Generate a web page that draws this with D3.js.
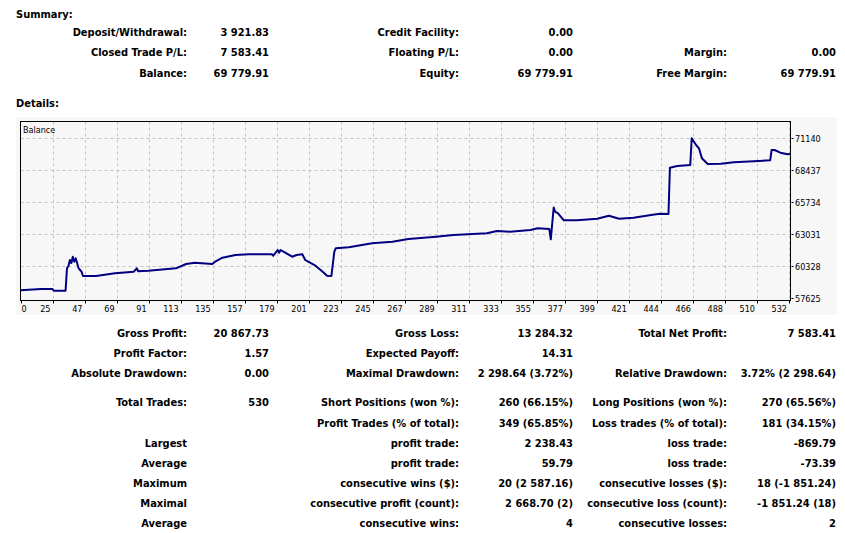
<!DOCTYPE html>
<html>
<head>
<meta charset="utf-8">
<script src="https://cdn.jsdelivr.net/npm/d3@7"></script>
<style>
  body { margin: 0; background: #fff; }
  svg text { font-family: "DejaVu Sans Condensed", "DejaVu Sans", sans-serif; fill: #000; }
</style>
</head>
<body>
<div id="report"></div>
<script>
// balance curve (trade number -> balance)
const tradeNo = [0, 14, 22, 23, 31, 32, 33, 34, 35, 36, 37, 38, 39, 40, 41, 42, 43, 52, 65, 78, 80, 81, 88,
  107, 114, 120, 132, 134, 139, 148, 157, 173, 174, 177, 178, 179, 181, 187, 190, 194, 196, 198, 203,
  208, 211, 214, 216, 217, 226, 242, 256, 267, 286, 298, 321, 328, 337, 351, 356, 364, 365, 367, 368,
  370, 374, 383, 397, 405, 412, 422, 434, 440, 446, 447, 452, 461, 462, 465, 467, 469, 473, 482, 491,
  508, 516, 517, 519, 523, 528, 530];
const balance = [58275, 58380, 58380, 58242, 58242, 60134, 60328, 60835, 60581, 61114, 60691, 60978,
  60556, 60134, 59990, 59847, 59483, 59483, 59711, 59847, 60134, 59889, 59931,
  60134, 60497, 60607, 60497, 60691, 61029, 61257, 61316, 61316, 61198, 61680, 61452, 61680, 61536,
  61114, 61257, 61316, 60835, 60691, 60353,
  59847, 59509, 59483, 61536, 61823, 61908, 62246, 62381, 62609, 62803, 62947, 63090, 63284, 63225,
  63369, 63513, 63454, 62583, 65270, 64915,
  64780, 64188, 64188, 64324, 64577, 64324, 64408, 64636, 64746, 64720, 68632, 68775, 68860, 71115,
  70549, 70270, 69426, 68944, 68969, 69088,
  69197, 69256, 70127, 70127, 69898, 69763, 69779.91];

const xTickLabels = ["0", "25", "47", "69", "91", "113", "135", "157", "179", "201", "223", "245", "267",
  "289", "311", "333", "355", "377", "399", "421", "444", "466", "488", "510", "532"];
const yTickValues = [57625, 60328, 63031, 65734, 68437, 71140];

const summaryRows = [
  [["Deposit/Withdrawal:", "3 921.83"], ["Credit Facility:", "0.00"], null],
  [["Closed Trade P/L:", "7 583.41"], ["Floating P/L:", "0.00"], ["Margin:", "0.00"]],
  [["Balance:", "69 779.91"], ["Equity:", "69 779.91"], ["Free Margin:", "69 779.91"]]
];
const detailRows = [
  [["Gross Profit:", "20 867.73"], ["Gross Loss:", "13 284.32"], ["Total Net Profit:", "7 583.41"]],
  [["Profit Factor:", "1.57"], ["Expected Payoff:", "14.31"], null],
  [["Absolute Drawdown:", "0.00"], ["Maximal Drawdown:", "2 298.64 (3.72%)"], ["Relative Drawdown:", "3.72% (2 298.64)"]],
  [["Total Trades:", "530"], ["Short Positions (won %):", "260 (66.15%)"], ["Long Positions (won %):", "270 (65.56%)"]],
  [null, ["Profit Trades (% of total):", "349 (65.85%)"], ["Loss trades (% of total):", "181 (34.15%)"]],
  [["Largest", ""], ["profit trade:", "2 238.43"], ["loss trade:", "-869.79"]],
  [["Average", ""], ["profit trade:", "59.79"], ["loss trade:", "-73.39"]],
  [["Maximum", ""], ["consecutive wins ($):", "20 (2 587.16)"], ["consecutive losses ($):", "18 (-1 851.24)"]],
  [["Maximal", ""], ["consecutive profit (count):", "2 668.70 (2)"], ["consecutive loss (count):", "-1 851.24 (18)"]],
  [["Average", ""], ["consecutive wins:", "4"], ["consecutive losses:", "2"]]
];

// layout
const W = 845, H = 533;
const labelRight = [187, 459, 727];
const valueRight = [269, 573, 836];
const summaryY = [35.5, 56, 76.5];
const detailY = [337, 357, 377, 406, 426.5, 446.5, 466.5, 486.5, 506.5, 526.5];
const frame = { left: 20.5, top: 121.5, right: 790.5, bottom: 300.5 };

const svg = d3.select("#report").append("svg")
  .attr("width", W)
  .attr("height", H);

function drawRows(rows, ys) {
  rows.forEach((row, i) => {
    row.forEach((cell, c) => {
      if (!cell) return;
      svg.append("text")
        .attr("x", labelRight[c]).attr("y", ys[i])
        .attr("text-anchor", "end")
        .style("font-weight", "bold").style("font-size", "11px")
        .text(cell[0]);
      svg.append("text")
        .attr("x", valueRight[c]).attr("y", ys[i])
        .attr("text-anchor", "end")
        .style("font-weight", "bold").style("font-size", "11px")
        .text(cell[1]);
    });
  });
}

svg.append("text").attr("x", 16).attr("y", 18)
  .style("font-weight", "bold").style("font-size", "11px").text("Summary:");
drawRows(summaryRows, summaryY);
svg.append("text").attr("x", 16).attr("y", 107)
  .style("font-weight", "bold").style("font-size", "11px").text("Details:");
drawRows(detailRows, detailY);

// chart panel
svg.append("rect")
  .attr("x", 16).attr("y", 117)
  .attr("width", 821).attr("height", 198)
  .attr("fill", "#f7f7f7");

var x = d3.scaleLinear().domain([0, 530]).range([frame.left, frame.right]);
var y = d3.scaleLinear().domain([57625, 71140]).range([298, 138]);
var xt = d3.scalePoint().domain(xTickLabels).range([frame.left, 789]);

var grid = svg.append("g")
  .attr("stroke", "#c4c4c4")
  .attr("stroke-dasharray", "3,3");
grid.selectAll(".vgrid")
  .data(xTickLabels.slice(1))
  .enter()
  .append("line")
  .attr("x1", (d) => Math.round(xt(d)) + 0.5)
  .attr("x2", (d) => Math.round(xt(d)) + 0.5)
  .attr("y1", frame.top)
  .attr("y2", frame.bottom);
grid.selectAll(".hgrid")
  .data(yTickValues.slice(1))
  .enter()
  .append("line")
  .attr("x1", frame.left)
  .attr("x2", frame.right)
  .attr("y1", (d) => Math.round(y(d)) + 0.5)
  .attr("y2", (d) => Math.round(y(d)) + 0.5);

// balance line
svg.append("clipPath").attr("id", "clip")
  .append("rect")
  .attr("x", frame.left).attr("y", frame.top)
  .attr("width", frame.right - frame.left).attr("height", frame.bottom - frame.top);

var line = d3.line()
  .x((d, i) => x(tradeNo[i]))
  .y((d) => y(d));
svg.append("path")
  .datum(balance)
  .attr("clip-path", "url(#clip)")
  .attr("fill", "none")
  .attr("stroke", "#000080")
  .attr("stroke-width", 2)
  .attr("stroke-linejoin", "round")
  .attr("d", line);

// frame
svg.append("rect")
  .attr("x", frame.left).attr("y", frame.top)
  .attr("width", frame.right - frame.left).attr("height", frame.bottom - frame.top)
  .attr("fill", "none")
  .attr("stroke", "#000");

svg.append("text").attr("x", 23).attr("y", 133)
  .style("font-size", "9px").text("Balance");

// x ticks + labels
svg.append("g").selectAll("line")
  .data(xTickLabels)
  .enter()
  .append("line")
  .attr("x1", (d) => Math.round(xt(d)) + 0.5)
  .attr("x2", (d) => Math.round(xt(d)) + 0.5)
  .attr("y1", frame.bottom)
  .attr("y2", frame.bottom + 3)
  .attr("stroke", "#000");
svg.append("g").selectAll("text")
  .data(xTickLabels)
  .enter()
  .append("text")
  .attr("x", (d, i) => i === 0 ? xt(d) + 1 : xt(d) - 2)
  .attr("y", 312)
  .attr("text-anchor", (d, i) => i === 0 ? "start" : "end")
  .style("font-size", "9px")
  .text((d) => d);

// y ticks + labels on the right
svg.append("g").selectAll("line")
  .data(yTickValues)
  .enter()
  .append("line")
  .attr("x1", frame.right + 1)
  .attr("x2", frame.right + 3)
  .attr("y1", (d) => Math.round(y(d)) + 0.5)
  .attr("y2", (d) => Math.round(y(d)) + 0.5)
  .attr("stroke", "#000");
svg.append("g").selectAll("text")
  .data(yTickValues)
  .enter()
  .append("text")
  .attr("x", 795)
  .attr("y", (d) => y(d) + 3.5)
  .style("font-size", "9px")
  .text((d) => d);
</script>
</body>
</html>
